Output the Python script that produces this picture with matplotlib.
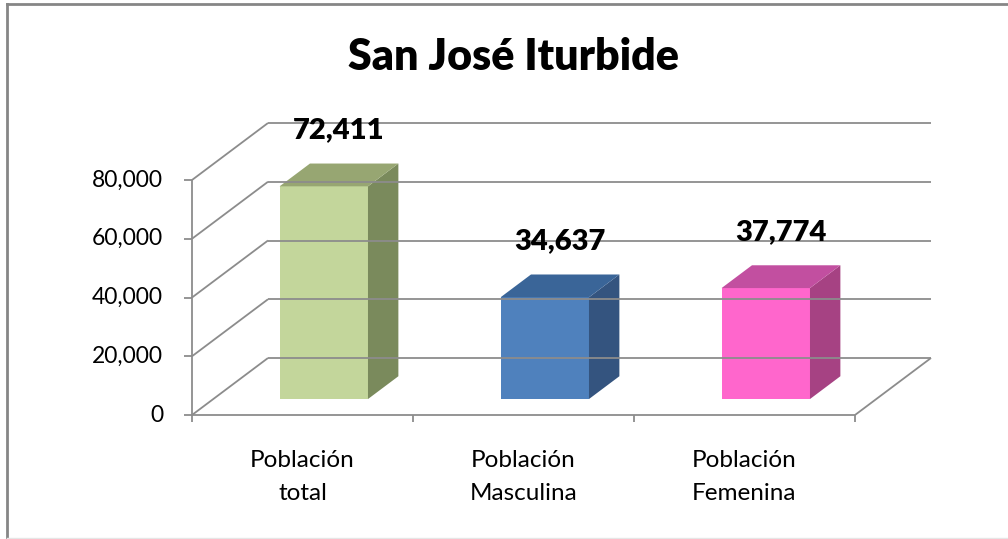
import matplotlib
matplotlib.use("Agg")
import matplotlib.pyplot as plt
from matplotlib.patches import Polygon

plt.rcParams['font.family'] = ['Lato', 'DejaVu Sans']

# data
title = "San José Iturbide"
categories = ["Población\ntotal", "Población\nMasculina", "Población\nFemenina"]
values = [72411, 34637, 37774]
yticks = [0, 20000, 40000, 60000, 80000]
front_colors = ["#C3D69B", "#4F81BD", "#FF66CC"]
side_colors = ["#7A8A5C", "#34547F", "#A64283"]
top_colors = ["#97A672", "#3A6598", "#C24FA0"]

W, H = 1008, 539
fig = plt.figure(figsize=(W / 100, H / 100), dpi=100)
ax = fig.add_axes([0, 0, 1, 1])
ax.axis("off")

# map pixels onto category / value units so the figure layout matches
PX_PER_CAT = 221.0
PX_PER_VAL = 235.0 / 80000
X0_PX, Y0_PX = 192.0, 415.0
ax.set_xlim(-X0_PX / PX_PER_CAT, (W - X0_PX) / PX_PER_CAT)
ax.set_ylim(-(H - Y0_PX) / PX_PER_VAL, Y0_PX / PX_PER_VAL)

# oblique depth offset (category units, value units)
DX = 76 / PX_PER_CAT
DY = 57 / PX_PER_VAL
ymax = yticks[-1]
ncat = len(categories)
grid = dict(color="#8C8C8C", lw=1.3, solid_capstyle="butt")

# back wall gridlines and left wall diagonals
for v in yticks:
    ax.plot([DX, ncat + DX], [v + DY, v + DY], **grid)
    ax.plot([0, DX], [v, v + DY], **grid)
    ax.plot([-0.035, 0], [v, v], **grid)
# left axis and floor
ax.plot([0, 0], [0, ymax], **grid)
ax.plot([0, ncat], [0, 0], **grid)
ax.plot([ncat, ncat + DX], [0, DY], **grid)
for i in range(ncat + 1):
    ax.plot([i, i], [0, -0.03 * ymax], **grid)

# bars
f0, f1 = 0.28, 0.68
bw = 0.40
for i, v in enumerate(values):
    x0 = i + 0.5 - bw / 2 + f0 * DX
    x1 = x0 + bw
    b0 = f0 * DY
    ddx, ddy = (f1 - f0) * DX, (f1 - f0) * DY
    ax.add_patch(Polygon([(x0, b0), (x1, b0), (x1, b0 + v), (x0, b0 + v)],
                         closed=True, fc=front_colors[i], ec="none"))
    ax.add_patch(Polygon([(x1, b0), (x1 + ddx, b0 + ddy), (x1 + ddx, b0 + ddy + v), (x1, b0 + v)],
                         closed=True, fc=side_colors[i], ec="none"))
    ax.add_patch(Polygon([(x0, b0 + v), (x1, b0 + v), (x1 + ddx, b0 + ddy + v), (x0 + ddx, b0 + ddy + v)],
                         closed=True, fc=top_colors[i], ec="none"))
    ax.text((x0 + x1) / 2 + ddx / 2, b0 + ddy + v + 33 / PX_PER_VAL, f"{v:,}",
            ha="center", va="center", fontsize=21, fontweight="heavy", color="black")

# tick labels
for v in yticks:
    ax.text(-29 / PX_PER_CAT, v, f"{v:,}", ha="right", va="center", fontsize=16.5, color="black")
for i, c in enumerate(categories):
    ax.text(i + 0.5, -35 / PX_PER_VAL, c, ha="center", va="top", fontsize=17.5,
            color="black", linespacing=1.7)

fig.text(514 / W, 1 - 57 / H, title, ha="center", va="center", fontsize=31, fontweight="heavy")

# chart area border
fig.add_artist(plt.Line2D([6.5 / W, 6.5 / W], [0, 1 - 3.5 / H], color="#868686", lw=2))
fig.add_artist(plt.Line2D([6.5 / W, 1], [1 - 3.5 / H, 1 - 3.5 / H], color="#868686", lw=2))
fig.add_artist(plt.Line2D([6.5 / W, 1], [1.5 / H, 1.5 / H], color="#E6E6E6", lw=1))

fig.savefig("out.png", dpi=100, facecolor="white")
